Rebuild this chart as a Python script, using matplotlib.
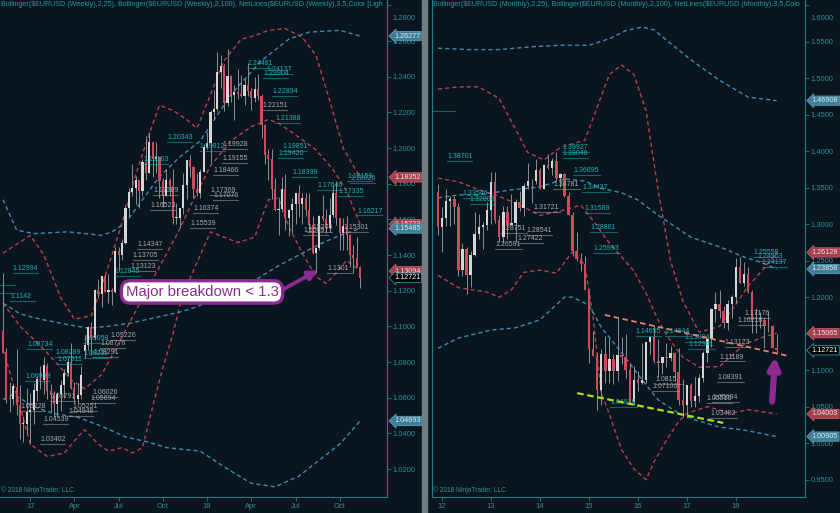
import numpy as np
import matplotlib.pyplot as plt
from matplotlib.transforms import blended_transform_factory, ScaledTranslation

plt.rcParams['font.family'] = ['Liberation Sans', 'DejaVu Sans']

# ---------------- weekly $EURUSD, first bar = week of 7 Nov 2016 ----------------
w_open = [1.0975, 1.0855, 1.0600, 1.0590, 1.0660, 1.0560, 1.0450, 1.0455, 1.0517, 1.0530,
          1.0640, 1.0700, 1.0697, 1.0780, 1.0640, 1.0617, 1.0562, 1.0620, 1.0672, 1.0740,
          1.0798, 1.0652, 1.0590, 1.0615, 1.0860, 1.0895, 1.0997, 1.0933, 1.1206, 1.1183,
          1.1280, 1.1195, 1.1198, 1.1195, 1.1425, 1.1400, 1.1470, 1.1665, 1.1752, 1.1774,
          1.1822, 1.1760, 1.1924, 1.1860, 1.2035, 1.1940, 1.1950, 1.1815, 1.1730, 1.1820,
          1.1785, 1.1606, 1.1608, 1.1665, 1.1795, 1.1935, 1.1895, 1.1770, 1.1750, 1.1865,
          1.2005, 1.2030, 1.2200, 1.2220, 1.2425, 1.2460, 1.2250, 1.2405, 1.2295, 1.2315,
          1.2305, 1.2290, 1.2355, 1.2322, 1.2280, 1.2330, 1.2290, 1.2130, 1.1960, 1.1940,
          1.1770, 1.1650, 1.1660, 1.1770, 1.1610, 1.1655, 1.1685, 1.1745, 1.1685, 1.1720,
          1.1655, 1.1570, 1.1410, 1.1440, 1.1620, 1.1600, 1.1550, 1.1625, 1.1750, 1.1605,
          1.1525, 1.1560, 1.1510, 1.1400, 1.1385, 1.1335]
w_high = [1.1299, 1.0878, 1.0686, 1.0683, 1.0874, 1.0670, 1.0495, 1.0654, 1.0625, 1.0685,
          1.0720, 1.0775, 1.0829, 1.0795, 1.0679, 1.0635, 1.0630, 1.0700, 1.0760, 1.0820,
          1.0906, 1.0690, 1.0680, 1.0780, 1.0950, 1.1000, 1.1023, 1.1212, 1.1268, 1.1285,
          1.1296, 1.1296, 1.1213, 1.1445, 1.1445, 1.1490, 1.1683, 1.1777, 1.1910, 1.1845,
          1.1822, 1.1940, 1.2070, 1.2092, 1.2035, 1.2035, 1.1950, 1.1830, 1.1880, 1.1830,
          1.1880, 1.1690, 1.1666, 1.1860, 1.1935, 1.1960, 1.1900, 1.1860, 1.1880, 1.2025,
          1.2088, 1.2215, 1.2323, 1.2537, 1.2520, 1.2470, 1.2555, 1.2410, 1.2355, 1.2445,
          1.2410, 1.2390, 1.2475, 1.2335, 1.2396, 1.2413, 1.2305, 1.2135, 1.1995, 1.1995,
          1.1830, 1.1725, 1.1840, 1.1852, 1.1660, 1.1720, 1.1750, 1.1790, 1.1745, 1.1750,
          1.1745, 1.1620, 1.1445, 1.1625, 1.1735, 1.1660, 1.1720, 1.1790, 1.1815, 1.1610,
          1.1610, 1.1620, 1.1520, 1.1455, 1.1500, 1.1340]
w_low = [1.0851, 1.0569, 1.0518, 1.0560, 1.0505, 1.0367, 1.0352, 1.0400, 1.0340, 1.0453,
         1.0580, 1.0650, 1.0620, 1.0590, 1.0520, 1.0494, 1.0495, 1.0525, 1.0600, 1.0720,
         1.0650, 1.0570, 1.0570, 1.0590, 1.0820, 1.0870, 1.0840, 1.0925, 1.1160, 1.1110,
         1.1195, 1.1132, 1.1119, 1.1185, 1.1312, 1.1371, 1.1460, 1.1613, 1.1730, 1.1688,
         1.1662, 1.1730, 1.1823, 1.1860, 1.1838, 1.1860, 1.1717, 1.1670, 1.1730, 1.1730,
         1.1574, 1.1575, 1.1554, 1.1630, 1.1715, 1.1840, 1.1717, 1.1730, 1.1720, 1.1865,
         1.1995, 1.1915, 1.2165, 1.2210, 1.2335, 1.2205, 1.2235, 1.2260, 1.2155, 1.2275,
         1.2285, 1.2240, 1.2290, 1.2215, 1.2260, 1.2270, 1.2055, 1.1910, 1.1820, 1.1715,
         1.1645, 1.1510, 1.1640, 1.1540, 1.1508, 1.1525, 1.1575, 1.1615, 1.1575, 1.1620,
         1.1530, 1.1405, 1.1301, 1.1430, 1.1590, 1.1525, 1.1530, 1.1615, 1.1570, 1.1430,
         1.1430, 1.1430, 1.1335, 1.1300, 1.1330, 1.1216]
w_close = [1.0853, 1.0588, 1.0590, 1.0663, 1.0560, 1.0450, 1.0455, 1.0517, 1.0530, 1.0643,
           1.0703, 1.0697, 1.0783, 1.0640, 1.0617, 1.0562, 1.0620, 1.0672, 1.0740, 1.0798,
           1.0652, 1.0590, 1.0615, 1.0725, 1.0895, 1.0997, 1.0933, 1.1206, 1.1183, 1.1280,
           1.1195, 1.1198, 1.1195, 1.1425, 1.1400, 1.1470, 1.1665, 1.1752, 1.1774, 1.1822,
           1.1760, 1.1924, 1.1860, 1.2035, 1.1940, 1.1950, 1.1815, 1.1730, 1.1820, 1.1785,
           1.1606, 1.1608, 1.1665, 1.1795, 1.1935, 1.1895, 1.1770, 1.1750, 1.1865, 1.2005,
           1.2030, 1.2200, 1.2220, 1.2425, 1.2460, 1.2250, 1.2405, 1.2295, 1.2315, 1.2305,
           1.2290, 1.2355, 1.2322, 1.2280, 1.2330, 1.2290, 1.2130, 1.1960, 1.1940, 1.1770,
           1.1650, 1.1660, 1.1770, 1.1610, 1.1655, 1.1685, 1.1745, 1.1685, 1.1720, 1.1655,
           1.1570, 1.1410, 1.1440, 1.1620, 1.1600, 1.1550, 1.1625, 1.1750, 1.1605, 1.1525,
           1.1560, 1.1510, 1.1400, 1.1385, 1.1335, 1.12721]
w_tick_pos = [8, 21, 34, 47, 60, 73, 86, 99]
w_tick_lab = ['17', 'Apr', 'Jul', 'Oct', '18', 'Apr', 'Jul', 'Oct']

# weekly Bollinger(2,25)
w_bb25_up_i = [0, 8, 12, 17, 21, 26, 30, 35, 39, 43, 46, 50, 54, 57, 61, 65, 70, 74, 78, 83, 88, 92, 96, 100, 103, 105]
w_bb25_up = [1.141, 1.151, 1.140, 1.116, 1.104, 1.106, 1.128, 1.158, 1.185, 1.208, 1.224, 1.221, 1.216, 1.211,
             1.230, 1.249, 1.261, 1.263, 1.266, 1.267, 1.262, 1.252, 1.227, 1.200, 1.190, 1.18352]
w_bb25_mid_i = [0, 5, 10, 15, 20, 24, 29, 33, 38, 45, 51, 56, 61, 67, 73, 78, 81, 87, 92, 97, 101, 105]
w_bb25_mid = [1.113, 1.100, 1.091, 1.081, 1.070, 1.065, 1.073, 1.087, 1.105, 1.130, 1.151, 1.171, 1.190,
              1.204, 1.212, 1.216, 1.214, 1.206, 1.199, 1.188, 1.176, 1.15723]
w_bb25_lo_i = [0, 5, 8, 13, 18, 22, 24, 28, 31, 35, 38, 41, 44, 47, 50, 52, 55, 58, 61, 65, 69, 74, 78, 81,
               84, 88, 92, 95, 98, 101, 105]
w_bb25_lo = [1.087, 1.055, 1.034, 1.027, 1.029, 1.038, 1.042, 1.034, 1.030, 1.032, 1.029, 1.032, 1.055, 1.077,
             1.096, 1.112, 1.127, 1.140, 1.153, 1.150, 1.147, 1.150, 1.171, 1.172, 1.156, 1.141, 1.128, 1.124,
             1.130, 1.137, 1.13094]
# weekly Bollinger(2,100)
w_bb100_up_i = [0, 4, 9, 19, 29, 32, 36, 41, 46, 52, 58, 67, 76, 84, 90, 99, 105]
w_bb100_up = [1.171, 1.154, 1.152, 1.153, 1.151, 1.153, 1.158, 1.171, 1.184, 1.195, 1.204, 1.230, 1.249,
              1.261, 1.265, 1.266, 1.26277]
w_bb100_mid_i = [0, 5, 11, 19, 25, 31, 38, 45, 52, 57, 63, 69, 75, 81, 87, 93, 99, 105]
w_bb100_mid = [1.113, 1.107, 1.104, 1.101, 1.099, 1.100, 1.102, 1.105, 1.108, 1.111, 1.116, 1.121, 1.127,
               1.134, 1.140, 1.146, 1.151, 1.15485]
w_bb100_lo_i = [0, 3, 9, 15, 22, 29, 36, 43, 48, 58, 66, 73, 80, 87, 93, 99, 105]
w_bb100_lo = [1.059, 1.062, 1.055, 1.051, 1.049, 1.044, 1.038, 1.035, 1.032, 1.030, 1.020, 1.012, 1.010,
              1.016, 1.025, 1.034, 1.04693]

# weekly NetLines levels: bar index, label, kind
w_net_i = [2.9, 2.1, 7.1, 15.3, 15.9, 6.5, 5.0, 13.8, 11.8, 10.9, 26.2, 25.6, 20.3, 19.1, 31.5, 23.5,
           28.5, 26.5, 23.5, 32.9, 37.4, 38.2, 39.4, 43.2, 44.1, 41.2, 48.2, 55.9, 55.0, 60.9, 61.8, 61.8,
           64.4, 64.4, 57.9, 71.8, 77.6, 76.5, 79.1, 76.2, 80.0, 82.1, 80.9, 85.0, 92.4, 98.5, 101.2, 102.1,
           104.1, 100.0, 89.4, 88.2, 95.3]
w_net_txt = ['1.12994', '1.1142', '1.08734', '1.08289', '1.07911', '1.06939', '1.05228',
             '1.05791', '1.04539', '1.03402', '1.06026', '1.05694', '1.05251', '1.04948', '1.09226', '1.09058',
             '1.08776', '1.08291', '1.08211', '1.12845', '1.13123', '1.13705', '1.14347', '1.16523', '1.17389',
             '1.19103', '1.20343', '1.16374', '1.15539', '1.17369', '1.17076', '1.18466', '1.19155', '1.19928',
             '1.19812', '1.24481', '1.24137', '1.23904', '1.22894', '1.22151', '1.21388', '1.19851', '1.19420',
             '1.18399', '1.17646', '1.17335', '1.18153', '1.18026', '1.16217', '1.15301', '1.15276', '1.15097',
             '1.1301']
w_net_kind = ['h', 'h', 'h', 'h', 'h', 'h', 'l', 'l', 'l', 'l', 'l', 'l', 'l', 'l', 'l', 'h',
              'l', 'l', 'h', 'h', 'l', 'l', 'l', 'l', 'l', 'h', 'h', 'l', 'l', 'l', 'l', 'l', 'l', 'l',
              'h', 'h', 'h', 'h', 'h', 'l', 'h', 'h', 'h', 'h', 'h', 'h', 'h', 'h', 'h', 'l', 'l', 'l', 'l']
# levels whose labels sit left of the visible range
w_bare_p = [1.1232, 1.1187]

# ---------------- monthly $EURUSD, first bar = Dec 2011 ----------------
m_open = [1.3445, 1.2960, 1.3080, 1.3320, 1.3340, 1.3240, 1.2370, 1.2665, 1.2300, 1.2575, 1.2860, 1.2960,
          1.2985, 1.3195, 1.3575, 1.3060, 1.2820, 1.3170, 1.2995, 1.3010, 1.3300, 1.3220, 1.3525, 1.3585,
          1.3590, 1.3745, 1.3485, 1.3805, 1.3770, 1.3870, 1.3635, 1.3690, 1.3390, 1.3130, 1.2630, 1.2525,
          1.2450, 1.2100, 1.1290, 1.1195, 1.0730, 1.1220, 1.0985, 1.1150, 1.0985, 1.1210, 1.1175, 1.1005,
          1.0565, 1.0860, 1.0830, 1.0870, 1.1380, 1.1450, 1.1130, 1.1105, 1.1175, 1.1160, 1.1240, 1.0980,
          1.0590, 1.0517, 1.0797, 1.0575, 1.0650, 1.0895, 1.1240, 1.1425, 1.1840, 1.1905, 1.1815, 1.1645,
          1.1905, 1.2005, 1.2410, 1.2195, 1.2320, 1.2075, 1.1690, 1.1685, 1.1690, 1.1600, 1.1605, 1.1310]
m_high = [1.3550, 1.3234, 1.3487, 1.3386, 1.3384, 1.3283, 1.2748, 1.2692, 1.2637, 1.3172, 1.3140, 1.3030,
          1.3308, 1.3710, 1.3711, 1.3120, 1.3243, 1.3243, 1.3416, 1.3345, 1.3452, 1.3567, 1.3832, 1.3620,
          1.3893, 1.3775, 1.3825, 1.3967, 1.3905, 1.3993, 1.3700, 1.3700, 1.3445, 1.3160, 1.2887, 1.2600,
          1.2570, 1.2105, 1.1535, 1.1240, 1.1290, 1.1468, 1.1436, 1.1215, 1.1714, 1.1460, 1.1495, 1.1095,
          1.1060, 1.0990, 1.1376, 1.1390, 1.1460, 1.1616, 1.1428, 1.1185, 1.1366, 1.1327, 1.1250, 1.1299,
          1.0874, 1.0800, 1.0829, 1.0906, 1.0950, 1.1268, 1.1445, 1.1846, 1.2070, 1.2092, 1.1880, 1.1961,
          1.2025, 1.2537, 1.2555, 1.2476, 1.2413, 1.2095, 1.1852, 1.1791, 1.1733, 1.1815, 1.1625, 1.1500]
m_low = [1.2858, 1.2624, 1.2974, 1.2977, 1.3000, 1.2288, 1.2288, 1.2042, 1.2133, 1.2560, 1.2800, 1.2661,
         1.2923, 1.3000, 1.3020, 1.2750, 1.2745, 1.2795, 1.2990, 1.2755, 1.3185, 1.3105, 1.3480, 1.3296,
         1.3545, 1.3479, 1.3475, 1.3750, 1.3672, 1.3590, 1.3503, 1.3366, 1.3125, 1.2570, 1.2500, 1.2358,
         1.2095, 1.1098, 1.1190, 1.0458, 1.0520, 1.0820, 1.0820, 1.0810, 1.0850, 1.1085, 1.0895, 1.0557,
         1.0525, 1.0710, 1.0810, 1.0820, 1.1215, 1.1098, 1.0912, 1.0952, 1.1045, 1.1125, 1.0851, 1.0518,
         1.0352, 1.0340, 1.0494, 1.0495, 1.0570, 1.0840, 1.1118, 1.1312, 1.1662, 1.1717, 1.1574, 1.1554,
         1.1717, 1.1915, 1.2190, 1.2155, 1.2055, 1.1510, 1.1508, 1.1575, 1.1301, 1.1525, 1.1302, 1.1216]
m_close = [1.2960, 1.3080, 1.3320, 1.3340, 1.3240, 1.2370, 1.2665, 1.2300, 1.2575, 1.2860, 1.2960, 1.2985,
           1.3195, 1.3575, 1.3060, 1.2820, 1.3170, 1.2995, 1.3010, 1.3300, 1.3220, 1.3525, 1.3585, 1.3590,
           1.3745, 1.3485, 1.3805, 1.3770, 1.3870, 1.3635, 1.3690, 1.3390, 1.3130, 1.2630, 1.2525, 1.2450,
           1.2100, 1.1290, 1.1195, 1.0730, 1.1220, 1.0985, 1.1150, 1.0985, 1.1210, 1.1175, 1.1005, 1.0565,
           1.0860, 1.0830, 1.0870, 1.1380, 1.1450, 1.1130, 1.1105, 1.1175, 1.1160, 1.1240, 1.0980, 1.0590,
           1.0517, 1.0797, 1.0575, 1.0650, 1.0895, 1.1240, 1.1425, 1.1840, 1.1905, 1.1815, 1.1645, 1.1905,
           1.2005, 1.2410, 1.2195, 1.2320, 1.2075, 1.1690, 1.1685, 1.1690, 1.1600, 1.1605, 1.1310, 1.12721]
m_tick_pos = [1, 13, 25, 37, 49, 61, 73]
m_tick_lab = ['12', '13', '14', '15', '16', '17', '18']

# monthly Bollinger(2,25)
m_bb25_up_i = [0, 5, 10, 15, 19, 22, 26, 30, 36, 39, 42, 45, 48, 51, 54, 57, 60, 64, 69, 73, 76, 80, 83]
m_bb25_up = [1.485, 1.488, 1.488, 1.472, 1.430, 1.398, 1.388, 1.405, 1.415, 1.460, 1.505, 1.518, 1.505,
             1.455, 1.345, 1.250, 1.195, 1.152, 1.160, 1.190, 1.215, 1.240, 1.26128]
m_bb25_mid_i = [0, 5, 10, 14, 19, 25, 30, 35, 38, 42, 45, 48, 51, 54, 57, 60, 64, 69, 75, 80, 83]
m_bb25_mid = [1.363, 1.358, 1.347, 1.340, 1.329, 1.312, 1.318, 1.326, 1.305, 1.274, 1.255, 1.236, 1.205,
              1.168, 1.140, 1.118, 1.104, 1.105, 1.135, 1.146, 1.15065]
m_bb25_lo_i = [0, 5, 12, 15, 18, 21, 25, 29, 32, 33, 36, 38, 40, 42, 45, 48, 51, 53, 56, 59, 61, 66, 72, 76, 83]
m_bb25_lo = [1.230, 1.213, 1.207, 1.200, 1.210, 1.234, 1.237, 1.233, 1.255, 1.262, 1.244, 1.173, 1.069,
             1.040, 0.991, 0.965, 0.950, 0.975, 1.004, 1.030, 1.041, 1.050, 1.041, 1.046, 1.04003]
# monthly Bollinger(2,100)
m_bb100_up_i = [0, 8, 15, 23, 30, 37, 42, 46, 50, 53, 56, 62, 69, 76, 83]
m_bb100_up = [1.541, 1.539, 1.539, 1.543, 1.545, 1.545, 1.554, 1.565, 1.570, 1.566, 1.552, 1.525, 1.497,
              1.474, 1.46908]
m_bb100_mid_i = [0, 5, 10, 18, 25, 31, 36, 40, 45, 49, 54, 62, 69, 75, 79, 83]
m_bb100_mid = [1.336, 1.340, 1.340, 1.347, 1.351, 1.362, 1.359, 1.349, 1.343, 1.333, 1.312, 1.282, 1.269,
               1.255, 1.248, 1.23858]
m_bb100_lo_i = [0, 5, 13, 19, 25, 31, 33, 37, 40, 45, 50, 54, 59, 63, 69, 75, 83]
m_bb100_lo = [1.130, 1.144, 1.155, 1.158, 1.169, 1.200, 1.200, 1.189, 1.159, 1.124, 1.087, 1.059, 1.041,
              1.032, 1.022, 1.018, 1.00905]

# monthly NetLines levels
m_net_i = [2.2, 6.1, 7.8, 15.2, 14.0, 19.6, 21.8, 23.3, 28.2, 30.4, 30.6, 33.1, 35.3, 36.0, 37.3,
           38.0, 42.2, 48.5, 55.6, 60.5, 61.3, 70.3, 69.1, 53.2, 52.5, 68.4, 67.2, 65.9, 66.7, 75.2, 73.5,
           77.2, 78.2, 79.4]
m_net_txt = ['1.38701', '1.33546', '1.32808', '1.28751', '1.26591', '1.27422', '1.28541', '1.31721',
             '1.34781', '1.39927', '1.39046', '1.36695', '1.34437', '1.31589', '1.28861', '1.25993', '1.04918',
             '1.14655', '1.14644', '1.13804', '1.12941', '1.13123', '1.11189', '1.0815', '1.07106', '1.08391',
             '1.05694', '1.05516', '1.03402', '1.17176', '1.16218', '1.25558', '1.24963', '1.24137']
m_net_kind = ['h', 'h', 'h', 'l', 'l', 'l', 'l', 'l', 'l', 'h', 'h', 'h', 'h', 'h', 'h', 'h', 'h',
              'h', 'h', 'h', 'h', 'l', 'l', 'l', 'l', 'l', 'l', 'l', 'l', 'l', 'l', 'h', 'h', 'h']
m_bare_p = [1.4550]

# hand drawn trend lines on the monthly chart (bar index, price)
res_line_i = [40.9, 85.8]
res_line_p = [1.1756, 1.1195]
sup_line_i = [34.1, 69.9]
sup_line_p = [1.0686, 1.0278]

# ---------------- style ----------------
BG = '#09161f'
AX_COL = '#1d8189'
TICK_COL = '#2d8d95'
TITLE_COL = '#1f9aa2'
UP_COL = '#d6d6d6'
DN_COL = '#cf4b5a'
WICK_COL = '#8e8e8e'
RED_BB = '#b8404c'
BLUE_BB = '#3f8bab'
PURPLE = '#8d2a90'
NET_COL = {'h': '#1fb0b5', 'l': '#a9a9a9'}

fig = plt.figure(figsize=(8.4, 5.13), dpi=100, facecolor=BG)
axL = fig.add_axes([0.0, 16 / 513, 387 / 840, 497 / 513], facecolor=BG)
axR = fig.add_axes([432 / 840, 16 / 513, 373 / 840, 497 / 513], facecolor=BG)


def candles(ax, o, h, l, c, width):
    o, h, l, c = map(np.asarray, (o, h, l, c))
    x = np.arange(len(o))
    up = c >= o
    ax.vlines(x, l, h, color=WICK_COL, lw=0.7, zorder=3)
    bot = np.minimum(o, c)
    hgt = np.maximum(np.abs(c - o), 0.0008)
    ax.bar(x[up], hgt[up], width, bottom=bot[up], color=UP_COL, lw=0, zorder=4)
    ax.bar(x[~up], hgt[~up], width, bottom=bot[~up], color=DN_COL, lw=0, zorder=4)


def band(ax, xi, yv, col):
    ax.plot(xi, yv, color=col, lw=1.0, ls=(0, (3, 2.2)), zorder=2)


def netlines(ax, xi, txt, kind, span):
    for i, t, k in zip(xi, txt, kind):
        col = NET_COL[k]
        v = float(t)
        ax.plot([i, i + span], [v, v], color=col, lw=0.8, ls=(0, (0.9, 0.9)), zorder=5)
        ax.annotate(t, (i, v), xytext=(0, 0.7), textcoords='offset points', fontsize=5, color=col,
                    ha='left', va='bottom', zorder=6, annotation_clip=False, clip_on=True)


def bare_lines(ax, levels, x0, x1):
    for v in levels:
        ax.plot([x0, x1], [v, v], color=NET_COL['h'], lw=0.8, ls=(0, (0.9, 0.9)), zorder=5)


def tag(ax, v, kind, off):
    styles = {'blue': ('#3f7f99', '#5c9cb4', '#dfe8ec'),
              'red': ('#a4404b', '#c25a66', '#f2e2e4'),
              'last': ('#000000', '#2a9aa2', '#ffffff')}
    fc, ec, tc = styles[kind]
    tr = blended_transform_factory(ax.transAxes, ax.transData)
    ax.text(1 + off, v, f'{v:.5f}', transform=tr, fontsize=5.2, color=tc, ha='left', va='center',
            bbox=dict(boxstyle='larrow,pad=0.16', fc=fc, ec=ec, lw=0.6), clip_on=False, zorder=10)


def frame(ax, xlim, ylim, yticks, xpos, xlab, title, left_spine):
    ax.set_xlim(*xlim)
    ax.set_ylim(*ylim)
    ax.yaxis.tick_right()
    ax.set_yticks(yticks)
    ax.set_yticklabels([f'{t:.4f}' for t in yticks])
    ax.set_xticks(xpos)
    ax.set_xticklabels(xlab)
    ax.tick_params(axis='both', direction='out', length=3, width=0.6, color=AX_COL, labelcolor=TICK_COL,
                   labelsize=5.4)
    ax.tick_params(axis='y', pad=1)
    ax.tick_params(axis='x', pad=1.5)
    # the top price label is pushed down to stay inside the window, as in the platform
    top = ax.yaxis.get_major_ticks()[-1]
    shift = ScaledTranslation(0, -9 / 72, fig.dpi_scale_trans)
    top.label2.set_transform(top.label2.get_transform() + shift)
    for s in ['top', 'left']:
        ax.spines[s].set_visible(False)
    if left_spine:
        ax.spines['left'].set_visible(True)
    for s in ['right', 'bottom', 'left']:
        ax.spines[s].set_color(AX_COL)
        ax.spines[s].set_linewidth(0.8)
    ax.text(0.003, 0.997, title, transform=ax.transAxes, fontsize=5.1, color=TITLE_COL,
            ha='left', va='top', zorder=12)
    ax.text(0.003, 0.006, '\u00a9 2018 NinjaTrader, LLC', transform=ax.transAxes, fontsize=4.8,
            color='#3b8a91', ha='left', va='bottom', zorder=12)


# ---------------- weekly panel ----------------
candles(axL, w_open, w_high, w_low, w_close, 0.6)
band(axL, w_bb25_up_i, w_bb25_up, RED_BB)
band(axL, w_bb25_mid_i, w_bb25_mid, RED_BB)
band(axL, w_bb25_lo_i, w_bb25_lo, RED_BB)
band(axL, w_bb100_up_i, w_bb100_up, BLUE_BB)
band(axL, w_bb100_mid_i, w_bb100_mid, BLUE_BB)
band(axL, w_bb100_lo_i, w_bb100_lo, BLUE_BB)
netlines(axL, w_net_i, w_net_txt, w_net_kind, 7.5)
bare_lines(axL, w_bare_p, -1, 3.5)
frame(axL, (-0.9, 112.9), (1.0043, 1.283), np.arange(1.02, 1.281, 0.02), w_tick_pos, w_tick_lab,
      'Bollinger($EURUSD (Weekly),2,25), Bollinger($EURUSD (Weekly),2,100), '
      'NetLines($EURUSD (Weekly),3,5,Color [Ligh', False)

tag(axL, w_bb100_up[-1], 'blue', 0.018)
tag(axL, w_bb25_up[-1], 'red', 0.018)
tag(axL, w_bb25_mid[-1], 'red', 0.018)
tag(axL, w_bb100_mid[-1], 'blue', 0.018)
tag(axL, w_bb25_lo[-1], 'red', 0.018)
tag(axL, w_close[-1], 'last', 0.018)
tag(axL, w_bb100_lo[-1], 'blue', 0.018)

axL.annotate('Major breakdown < 1.3', xy=(92.6, 1.1315), xytext=(58.5, 1.1193),
             fontsize=10.8, color=PURPLE, ha='center', va='center', zorder=15,
             bbox=dict(boxstyle='round,pad=0.28,rounding_size=0.6', fc='white', ec=PURPLE, lw=2.4),
             arrowprops=dict(arrowstyle='-|>', color=PURPLE, lw=2.8, mutation_scale=14,
                             relpos=(1, 0.5), shrinkA=0, shrinkB=0))

# ---------------- monthly panel ----------------
candles(axR, m_open, m_high, m_low, m_close, 0.6)
band(axR, m_bb25_up_i, m_bb25_up, RED_BB)
band(axR, m_bb25_mid_i, m_bb25_mid, RED_BB)
band(axR, m_bb25_lo_i, m_bb25_lo, RED_BB)
band(axR, m_bb100_up_i, m_bb100_up, BLUE_BB)
band(axR, m_bb100_mid_i, m_bb100_mid, BLUE_BB)
band(axR, m_bb100_lo_i, m_bb100_lo, BLUE_BB)
netlines(axR, m_net_i, m_net_txt, m_net_kind, 6.5)
bare_lines(axR, m_bare_p, -1.5, 4.2)
axR.plot(res_line_i, res_line_p, color='#e5806c', lw=1.3, ls=(0, (3, 2)), zorder=7)
axR.plot(sup_line_i, sup_line_p, color='#a8dc1e', lw=1.6, ls=(0, (3, 1.6)), zorder=7)
frame(axR, (-1.47, 89.95), (0.9263, 1.607), np.arange(0.95, 1.601, 0.05), m_tick_pos, m_tick_lab,
      'Bollinger($EURUSD (Monthly),2,25), Bollinger($EURUSD (Monthly),2,100), '
      'NetLines($EURUSD (Monthly),3,5,Colo', True)

tag(axR, m_bb100_up[-1], 'blue', 0.018)
tag(axR, m_bb25_up[-1], 'red', 0.018)
tag(axR, m_bb100_mid[-1], 'blue', 0.018)
tag(axR, m_bb25_mid[-1], 'red', 0.018)
tag(axR, m_close[-1], 'last', 0.018)
tag(axR, m_bb25_lo[-1], 'red', 0.018)
tag(axR, m_bb100_lo[-1], 'blue', 0.018)

axR.annotate('', xy=(82.6, 1.1186), xytext=(81.9, 1.0571), zorder=15,
             arrowprops=dict(arrowstyle='-|>', color=PURPLE, lw=4.5, mutation_scale=16,
                             shrinkA=0, shrinkB=0))

# divider between the two charts
fig.patches.append(plt.Rectangle((422 / 840, 0), 5 / 840, 1, transform=fig.transFigure,
                                 color='#6f7d83', zorder=0))

fig.savefig('out.png', dpi=100, facecolor=BG)
